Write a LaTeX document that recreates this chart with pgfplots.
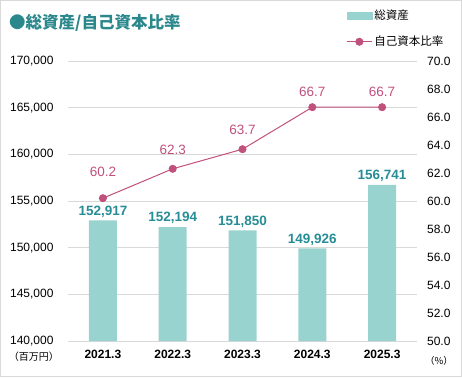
\documentclass[border=0pt]{standalone}
\usepackage{pgfplots}
\usepackage{pgfplotstable}
\pgfplotsset{compat=1.18}
\usepackage{fontspec}
\setmainfont{Liberation Sans}
\newfontfamily\cjk{Noto Sans CJK JP}
\definecolor{barcol}{RGB}{153,211,208}
\definecolor{tealtxt}{RGB}{38,140,150}
\definecolor{titlecol}{RGB}{42,135,140}
\definecolor{linecol}{RGB}{192,80,124}
\definecolor{gridcol}{RGB}{217,217,217}
\definecolor{framecol}{RGB}{217,217,217}

\pgfplotstableread{
x y
0 152917
1 152194
2 151850
3 149926
4 156741
}\assets

\pgfplotstableread{
x y dy
0 60.2 26
1 62.3 19
2 63.7 19
3 66.7 15
4 66.7 15
}\ratio

\begin{document}
\begin{tikzpicture}
\useasboundingbox (0pt,0pt) rectangle (462pt,-377pt);
\draw[framecol, line width=1pt] (0.5pt,-0.5pt) rectangle (461.5pt,-376.5pt);
\node[anchor=west, inner sep=0pt, font=\cjk\bfseries\fontsize{16.5}{19}\selectfont, text=titlecol] at (9pt,-23pt) {●総資産/自己資本比率};

\begin{axis}[
  at={(68pt,-341pt)}, anchor=south west,
  scale only axis, width=349pt, height=280pt,
  xmin=-0.5, xmax=4.5, ymin=140000, ymax=170000,
  ytick={140000,145000,...,170000},
  xtick={0,1,2,3,4},
  xticklabels={2021.3,2022.3,2023.3,2024.3,2025.3},
  axis x line*=bottom, axis y line*=left,
  y axis line style={draw=none},
  x axis line style={gridcol, line width=1pt},
  major tick length=0pt,
  ymajorgrids, grid style={gridcol, line width=0.8pt},
  scaled y ticks=false,
  yticklabel style={font=\fontsize{12}{14}\selectfont, /pgf/number format/fixed, /pgf/number format/1000 sep={,}, anchor=east, xshift=-11pt},
  xticklabel style={font=\bfseries\fontsize{12}{14}\selectfont, yshift=-6pt},
  /pgf/number format/assume math mode=true,
  clip=false,
]
\addplot[ybar, bar width=28pt, fill=barcol, draw=none,
  nodes near coords={\pgfmathprintnumber[fixed,1000 sep={,}]{\pgfplotspointmeta}},
  nodes near coords style={font=\bfseries\fontsize{13.5}{15}\selectfont, text=tealtxt, anchor=center, yshift=9pt, /pgf/number format/assume math mode=true},
  point meta=explicit]
  table[x=x, y=y, meta=y] {\assets};
\end{axis}

\begin{axis}[
  at={(68pt,-341pt)}, anchor=south west,
  scale only axis, width=349pt, height=280pt,
  xmin=-0.5, xmax=4.5, ymin=50, ymax=70,
  ytick={50,52,...,70},
  axis y line*=right, axis x line=none,
  y axis line style={draw=none},
  major tick length=0pt,
  yticklabel style={font=\fontsize{12}{14}\selectfont, /pgf/number format/fixed, /pgf/number format/fixed zerofill, /pgf/number format/precision=1, anchor=east, xshift=37pt},
  /pgf/number format/assume math mode=true,
  clip=false,
  legend style={at={(axis description cs:0.797,1.19)}, anchor=north west, draw=none, fill=none, inner sep=0pt, row sep=11pt, font=\cjk\fontsize{11.5}{13}\selectfont, cells={anchor=west}},
  legend cell align=left,
]
\addlegendimage{legend image code/.code={\fill[barcol] (0pt,-3.5pt) rectangle (25pt,3.5pt);}}
\addlegendentry{総資産}
\addplot[linecol, line width=1pt, mark=*, mark size=3.5pt, mark options={fill=linecol, draw=linecol},
  legend image code/.code={\draw[linecol, line width=1pt] (0pt,0pt) -- (25pt,0pt); \fill[linecol] (12.5pt,0pt) circle (3.5pt);},
  visualization depends on={\thisrow{dy}\as\dy},
  nodes near coords={\pgfmathprintnumber[fixed,fixed zerofill,precision=1]{\pgfplotspointmeta}},
  nodes near coords style={font=\fontsize{13.5}{15}\selectfont, text=linecol, anchor=center, yshift=\dy pt, /pgf/number format/assume math mode=true},
  point meta=explicit]
  table[x=x, y=y, meta=y] {\ratio};
\addlegendentry{自己資本比率}
\end{axis}

\node[anchor=center, font=\cjk\fontsize{10}{12}\selectfont] at (34pt,-357pt) {（百万円）};
\node[anchor=center, font=\cjk\fontsize{9.5}{12}\selectfont] at (439pt,-361pt) {（\%）};
\end{tikzpicture}
\end{document}
